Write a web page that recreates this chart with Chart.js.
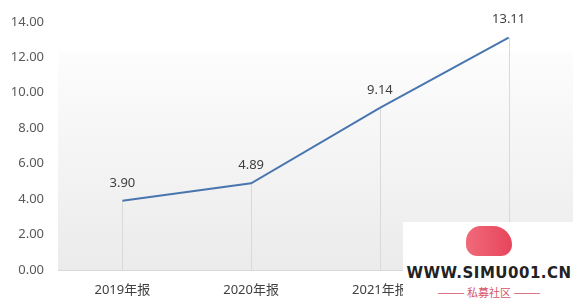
<!DOCTYPE html>
<html>
<head>
<meta charset="utf-8">
<script src="https://cdn.jsdelivr.net/npm/chart.js@4"></script>
<style>
  html, body { margin: 0; padding: 0; background: #fff; }
  #wrap { position: relative; width: 580px; height: 305px; }
  #mark { position: absolute; left: 403px; top: 222px; width: 172px; height: 83px; background: #fff;
    font-family: "DejaVu Sans", sans-serif; text-align: center; }
  #mark .cloud { width: 46px; height: 30px; margin: 4px auto 0; border-radius: 16px 20px 12px 12px;
    background: linear-gradient(90deg, #f06a7a, #e8455c); }
  #mark .site { font-weight: bold; font-size: 15px; color: #222; letter-spacing: 0.5px; margin-top: 8px; }
  #mark .sub { font-family: "Noto Sans CJK SC", sans-serif; font-size: 11px; color: #d5566a; margin-top: 2px; }
</style>
</head>
<body>
<div id="wrap">
  <canvas id="c" width="580" height="305"></canvas>
  <div id="mark">
    <div class="cloud"></div>
    <div class="site">WWW.SIMU001.CN</div>
    <div class="sub">——— 私募社区 ———</div>
  </div>
</div>
<script>
const categories = ["2019年报", "2020年报", "2021年报", "2022年报"]
const values = [3.90, 4.89, 9.14, 13.11]
const yTicks = [0, 2, 4, 6, 8, 10, 12, 14]

const FONT = '"Noto Sans", "Noto Sans CJK SC", sans-serif'

// gradient background in the plot area
const bgPlugin = {
    id: "bg",
    beforeDraw(chart){
        const {ctx, chartArea: a} = chart
        const g = ctx.createLinearGradient(0, a.top, 0, a.bottom)
        g.addColorStop(0, "#ffffff")
        g.addColorStop(1, "#ebebeb")
        ctx.save()
        ctx.fillStyle = g
        ctx.fillRect(a.left, a.top + 30, a.right - a.left, a.bottom - a.top - 30)
        ctx.restore()
    }
}

// vertical drop lines and value labels
const dropPlugin = {
    id: "drops",
    beforeDatasetsDraw(chart){
        const ctx = chart.ctx
        const yScale = chart.scales.y
        const meta = chart.getDatasetMeta(0)
        ctx.save()
        ctx.strokeStyle = "#d9d9d9"
        ctx.lineWidth = 1
        meta.data.forEach(p => {
            const x = Math.round(p.x) + 0.5
            ctx.beginPath()
            ctx.moveTo(x, p.y)
            ctx.lineTo(x, yScale.getPixelForValue(0))
            ctx.stroke()
        })
        ctx.restore()
    },
    afterDatasetsDraw(chart){
        const ctx = chart.ctx
        const meta = chart.getDatasetMeta(0)
        ctx.save()
        ctx.fillStyle = "#404040"
        ctx.font = "13px " + FONT
        ctx.textAlign = "center"
        ctx.textBaseline = "middle"
        meta.data.forEach((p, i) => {
            ctx.fillText(values[i].toFixed(2), p.x, p.y - 18)
        })
        ctx.restore()
    }
}

new Chart(document.getElementById("c").getContext("2d"), {
    type: "line",
    data: {
        labels: categories,
        datasets: [{
            data: values,
            borderColor: "#4a76b0",
            borderWidth: 2,
            pointRadius: 0,
            tension: 0,
            fill: false
        }]
    },
    options: {
        responsive: false,
        animation: false,
        layout: { padding: { top: 9, right: 7, left: 0, bottom: 0 } },
        plugins: { legend: { display: false }, tooltip: { enabled: false } },
        scales: {
            x: {
                offset: true,
                grid: { display: false, drawTicks: false, offset: true },
                border: { color: "#d9d9d9", width: 1 },
                ticks: { color: "#404040", font: { size: 13, family: FONT }, padding: 12, maxRotation: 0 },
                afterFit(s){ s.height = 35 }
            },
            y: {
                min: 0,
                max: 14,
                afterBuildTicks(s){ s.ticks = yTicks.map(v => ({ value: v })) },
                grid: { display: false, drawTicks: false },
                border: { display: false },
                ticks: {
                    color: "#595959",
                    font: { size: 13, family: FONT },
                    padding: 14,
                    callback: v => v.toFixed(2)
                },
                afterFit(s){ s.width = 58 }
            }
        }
    },
    plugins: [bgPlugin, dropPlugin]
})
</script>
</body>
</html>
